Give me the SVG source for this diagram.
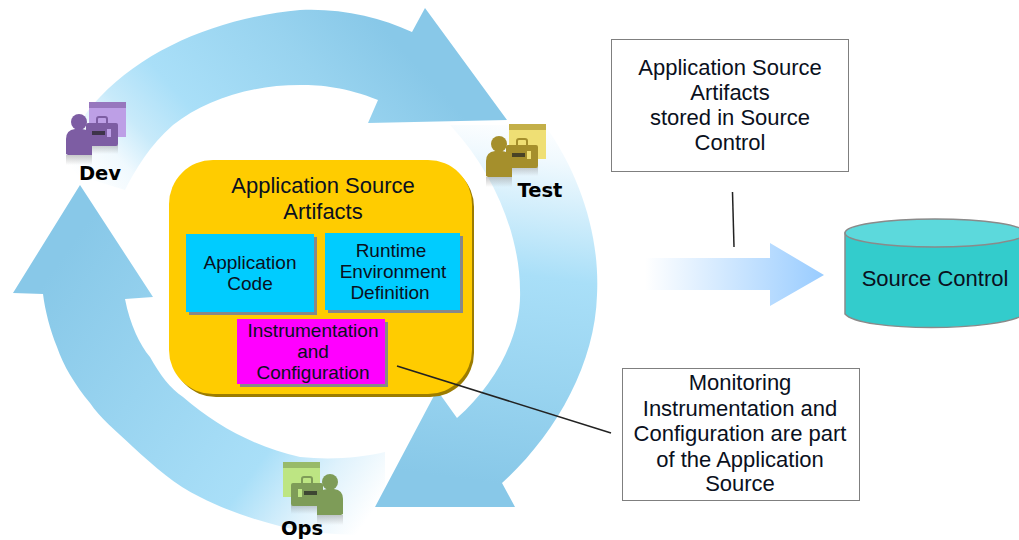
<svg xmlns="http://www.w3.org/2000/svg" width="1019" height="540" viewBox="0 0 1019 540">
<style>
text{font-family:"Liberation Sans",Arial,sans-serif;font-size:22px;fill:#0a1020;text-anchor:middle}
.lbl{font-family:"DejaVu Sans",sans-serif;font-weight:700;font-size:19.5px;fill:#000}
.note{fill:#fff;stroke:#7f7f7f;stroke-width:1}
.ln{stroke:#222;stroke-width:1.5;fill:none}
.sm{font-size:19px}
</style>
<defs>
<linearGradient id="gTop" gradientUnits="userSpaceOnUse" x1="90" y1="190" x2="330" y2="-30">
<stop offset="0" stop-color="#fff"/><stop offset=".13" stop-color="#f0f9fe"/><stop offset=".24" stop-color="#c8eafa"/><stop offset=".4" stop-color="#a9dff8"/><stop offset=".75" stop-color="#98d3ef"/><stop offset="1" stop-color="#88c8e8"/>
</linearGradient>
<linearGradient id="gRight" gradientUnits="userSpaceOnUse" x1="520" y1="120" x2="470" y2="480">
<stop offset="0" stop-color="#fff"/><stop offset=".1" stop-color="#f0f9fe"/><stop offset=".42" stop-color="#a9dff8"/><stop offset=".72" stop-color="#99d4f0"/><stop offset="1" stop-color="#88c8e8"/>
</linearGradient>
<linearGradient id="gLeft" gradientUnits="userSpaceOnUse" x1="385" y1="495" x2="60" y2="260">
<stop offset="0" stop-color="#fff"/><stop offset=".14" stop-color="#dff2fc"/><stop offset=".3" stop-color="#a9dff8"/><stop offset=".65" stop-color="#99d4f0"/><stop offset="1" stop-color="#88c8e8"/>
</linearGradient>
<linearGradient id="gFlow" gradientUnits="userSpaceOnUse" x1="645" y1="0" x2="824" y2="0">
<stop offset="0" stop-color="#fff"/><stop offset="1" stop-color="#99ccff"/>
</linearGradient>
<linearGradient id="fade" x1="0" y1="0" x2="0" y2="1">
<stop offset="0" stop-color="#888" stop-opacity=".45"/><stop offset="1" stop-color="#888" stop-opacity="0"/>
</linearGradient>
<g id="icon">
<rect x="89" y="102" width="37" height="35" fill="var(--b)"/>
<rect x="89" y="102" width="37" height="6" fill="var(--a)" opacity=".6"/>
<rect x="66" y="155" width="26" height="10" fill="url(#fade)"/>
<rect x="92" y="145" width="26" height="9" fill="url(#fade)"/>
<path d="M97 123v-4q0-2 2-2h6q2 0 2 2v4" fill="none" stroke="var(--a)" stroke-width="2"/>
<rect x="86" y="123" width="32" height="23" rx="2" fill="var(--a)"/>
<rect x="92" y="131" width="13" height="4" fill="#222" opacity=".7"/>
<rect x="107" y="129" width="4" height="8" fill="var(--b)"/>
<circle cx="79" cy="122" r="8" fill="var(--a)"/>
<path d="M66 154v-15q0-9 9-10h7q10 1 10 10v16H68z" fill="var(--a)"/>
</g>
</defs>
<rect width="1019" height="540" fill="#fff"/>

<g id="cycle">
<path id="arrow-left" fill="url(#gLeft)" d="M13 293L80 185L153 297L125 299C130 325 140 345 150 357C160 375 170 388 183 397C215 425 255 447 300 457C330 460 360 458 385 452L385 535C350 535 320 535 283 527C255 520 225 510 200 497C175 485 155 467 133 447C115 430 100 418 90 403C75 385 63 365 57 347C50 330 45 310 43 294Z"/>
<path id="arrow-top" fill="url(#gTop)" d="M60 170C70 135 85 112 100 97C150 45 225 17 300 10C340 8 380 17 412 32L425 8L507 120L368 123L378 100C345 87 322 85 300 85C250 85 205 100 173 125C150 145 135 170 125 190Z"/>
<path id="arrow-right" fill="url(#gRight)" d="M450 125H545C580 175 600 235 597 295C595 365 555 435 502 483L515 507H375L437 390L457 418C495 385 522 335 520 290C520 240 497 175 450 125Z"/>
</g>

<g id="dev"><use href="#icon" style="--a:#7d5da3;--b:#bd9fe6"/><text class="lbl" x="100" y="180">Dev</text></g>
<g id="test"><use href="#icon" transform="translate(420 22)" style="--a:#a58f2c;--b:#efdf74"/><text class="lbl" x="540" y="197">Test</text></g>
<g id="ops"><use href="#icon" transform="translate(409 360) scale(-1 1)" style="--a:#7e9c58;--b:#bde583"/><text class="lbl" x="302" y="535">Ops</text></g>

<g id="artifacts">
<rect x="172" y="163" width="302" height="234" rx="44" fill="#9c7c00"/>
<rect x="169" y="160" width="303" height="234" rx="44" fill="#ffcc00"/>
<text x="323" y="193">Application Source</text>
<text x="323" y="219">Artifacts</text>
</g>
<g id="app-code">
<rect x="189" y="237" width="128" height="78" fill="#888"/>
<rect x="186" y="234" width="128" height="78" fill="#00ccff"/>
<text class="sm" x="250" y="269">Application</text>
<text class="sm" x="250" y="290">Code</text>
</g>
<g id="runtime">
<rect x="328" y="236" width="135" height="77" fill="#888"/>
<rect x="325" y="233" width="135" height="77" fill="#00ccff"/>
<text class="sm" x="391" y="257">Runtime</text>
<text class="sm" x="393" y="278">Environment</text>
<text class="sm" x="390" y="299">Definition</text>
</g>
<g id="instrumentation">
<rect x="240" y="322" width="148" height="65" fill="#888"/>
<rect x="237" y="319" width="148" height="65" fill="#ff00ff"/>
<text class="sm" x="313" y="337">Instrumentation</text>
<text class="sm" x="313" y="358">and</text>
<text class="sm" x="313" y="379">Configuration</text>
</g>

<g id="flow-arrow">
<path fill="url(#gFlow)" d="M645 258H770V243L824 275L770 306V290H645Z"/>
</g>

<g id="source-control">
<path d="M845 233V314C860 332 1000 332 1025 314V233Z" fill="#33cccc" stroke="#8a8a8a" stroke-width="1.5"/>
<ellipse cx="935" cy="233" rx="90" ry="14" fill="#5cd9dc" stroke="#8a8a8a" stroke-width="1.5"/>
<text x="935" y="286">Source Control</text>
</g>

<g id="note-top">
<rect class="note" x="611.500" y="39.500" width="237" height="132"/>
<text x="730" y="75">Application Source</text>
<text x="730" y="100">Artifacts</text>
<text x="730" y="125">stored in Source</text>
<text x="730" y="150">Control</text>
</g>
<g id="note-bottom">
<rect class="note" x="622.500" y="368.500" width="237" height="132"/>
<text x="740" y="390">Monitoring</text>
<text x="740" y="416">Instrumentation and</text>
<text x="740" y="441">Configuration are part</text>
<text x="740" y="467">of the Application</text>
<text x="740" y="491">Source</text>
</g>

<g id="connectors">
<path class="ln" d="M732.500 192L734 247"/>
<path class="ln" d="M397 366L611 433"/>
</g>
</svg>
